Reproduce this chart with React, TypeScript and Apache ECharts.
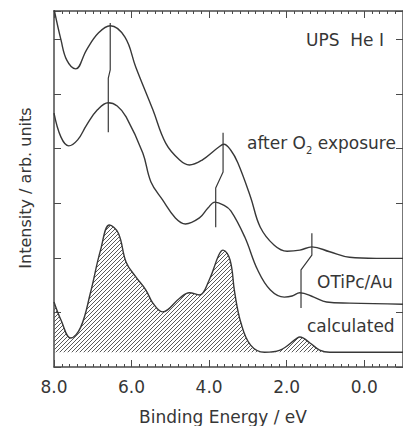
import React, { useEffect, useRef } from "react";
import * as echarts from "echarts";

// Binding energy (eV) / intensity (arb. units)
const o2Energy = [8.0, 7.82, 7.67, 7.44, 7.16, 6.85, 6.55, 6.17, 5.89, 5.45, 5.12, 4.76, 4.51, 4.18, 3.75, 3.62, 3.44, 3.26, 2.93, 2.68, 2.32, 1.99, 1.66, 1.35, 0.89, 0.38, -0.31, -1.0];
const o2Intensity = [6.56, 5.99, 5.62, 5.46, 5.81, 6.12, 6.25, 6.04, 5.49, 4.71, 4.1, 3.79, 3.7, 3.79, 4.03, 4.08, 3.97, 3.74, 3.11, 2.56, 2.23, 2.12, 2.14, 2.2, 2.11, 2.01, 1.99, 1.99];

const auEnergy = [8.0, 7.82, 7.62, 7.39, 7.16, 6.88, 6.6, 6.37, 6.14, 5.71, 5.5, 5.2, 4.87, 4.61, 4.25, 4.03, 3.85, 3.64, 3.44, 3.08, 2.75, 2.42, 2.06, 1.86, 1.66, 1.3, 0.97, 0.38, -1.0];
const auIntensity = [4.65, 4.21, 4.05, 4.16, 4.43, 4.71, 4.84, 4.78, 4.58, 3.92, 3.39, 3.06, 2.73, 2.62, 2.73, 2.91, 3.02, 2.97, 2.86, 2.38, 1.78, 1.41, 1.28, 1.3, 1.36, 1.28, 1.19, 1.17, 1.15];

const calcEnergy = [8.0, 7.82, 7.57, 7.31, 7.06, 6.8, 6.57, 6.34, 6.14, 5.89, 5.63, 5.45, 5.2, 4.76, 4.51, 4.25, 4.0, 3.75, 3.64, 3.46, 3.34, 3.18, 2.93, 2.57, 2.17, 1.73, 1.66, 1.4, 1.15, 0.89, -1.0];
const calcIntensity = [1.19, 0.86, 0.53, 0.73, 1.36, 2.14, 2.6, 2.45, 1.92, 1.65, 1.41, 1.17, 1.01, 1.26, 1.36, 1.32, 1.59, 2.05, 2.14, 1.96, 1.36, 0.81, 0.4, 0.27, 0.31, 0.53, 0.55, 0.44, 0.31, 0.27, 0.27];
const calcBaseline = 0.27;

// peak markers linking the two measured spectra
const markerAEnergy = [6.55, 6.55, 6.6, 6.6];
const markerAIntensity = [6.3, 5.44, 5.29, 4.3];
const markerBEnergy = [3.64, 3.64, 3.83, 3.83];
const markerBIntensity = [4.29, 3.57, 3.28, 2.56];
const markerCEnergy = [1.35, 1.35, 1.63, 1.63];
const markerCIntensity = [2.45, 2.05, 1.78, 1.08];

const xLabelValues = [8, 6, 4, 2, 0];

const zip = (a: number[], b: number[]) => a.map((v, i) => [v, b[i]]);

const FONT = '"DejaVu Sans", "Liberation Sans", sans-serif';
const TEXT = "#363636";
const LINE = "#383838";
const AXIS = "#4a4a4a";

function makeHatch() {
  const c = document.createElement("canvas");
  c.width = 8;
  c.height = 8;
  const ctx = c.getContext("2d")!;
  ctx.strokeStyle = "#5a5a5a";
  ctx.lineWidth = 1;
  for (let k = -8; k <= 16; k += 4) {
    ctx.beginPath();
    ctx.moveTo(k, 8);
    ctx.lineTo(k + 8, 0);
    ctx.stroke();
  }
  return c;
}

export default function App() {
  const ref = useRef<HTMLDivElement>(null);
  useEffect(() => {
    if (!ref.current) return;
    const chart = echarts.init(ref.current, undefined, { renderer: "svg" });
    const hatch = makeHatch();
    const xBase: any = { type: "value", min: -1, max: 8, inverse: true, splitLine: { show: false } };
    const minorAxis = (pos: string, labels: boolean) => ({
      ...xBase,
      position: pos,
      interval: 1,
      axisLine: { show: true, onZero: false, lineStyle: { color: AXIS, width: 1.5 } },
      axisTick: { show: true, inside: true, length: 3, lineStyle: { color: AXIS } },
      minorTick: { show: true, splitNumber: 5, length: 3, lineStyle: { color: AXIS } },
      minorSplitLine: { show: false },
      axisLabel: labels
        ? { show: true, customValues: xLabelValues, formatter: (v: number) => v.toFixed(1), fontSize: 17, fontFamily: FONT, color: TEXT, margin: 11 }
        : { show: false },
    });
    const majorAxis = (pos: string) => ({
      ...xBase,
      position: pos,
      interval: 1,
      axisLine: { show: false, onZero: false },
      axisTick: { show: true, inside: true, length: 7, customValues: xLabelValues, lineStyle: { color: AXIS } },
      axisLabel: { show: false },
    });
    const yAxis = (pos: string) => ({
      type: "value",
      min: 0,
      max: 6.52,
      interval: 1,
      position: pos,
      axisLine: { show: true, onZero: false, lineStyle: { color: AXIS, width: 1.5 } },
      axisTick: { show: true, inside: true, length: 7, lineStyle: { color: AXIS } },
      axisLabel: { show: false },
      splitLine: { show: false },
    });
    const curve = (data: number[][], extra: any = {}) => ({
      type: "line",
      data,
      smooth: 0.4,
      symbol: "none",
      xAxisIndex: 0,
      yAxisIndex: 0,
      lineStyle: { color: LINE, width: 1.4 },
      ...extra,
    });
    const marker = (data: number[][]) => ({
      type: "line",
      data,
      smooth: false,
      symbol: "none",
      xAxisIndex: 0,
      yAxisIndex: 0,
      lineStyle: { color: LINE, width: 1.2 },
    });
    const textEl = (text: string, x: number, y: number, align: string, size: number, extra: any = {}) => ({
      type: "text",
      x,
      y,
      ...extra,
      style: {
        text,
        fill: TEXT,
        fontSize: size,
        fontFamily: FONT,
        align,
        textAlign: align,
        verticalAlign: "middle",
        textVerticalAlign: "middle",
        ...(extra.style || {}),
      },
    });
    chart.setOption({
      animation: false,
      backgroundColor: "#fff",
      grid: { left: 54, top: 11, width: 353, height: 356, containLabel: false },
      xAxis: [minorAxis("bottom", true), majorAxis("bottom"), minorAxis("top", false), majorAxis("top")],
      yAxis: [yAxis("left"), yAxis("right")],
      series: [
        curve(zip(calcEnergy, calcIntensity), {
          areaStyle: { color: { image: hatch, repeat: "repeat", imageWidth: 8, imageHeight: 8 }, origin: calcBaseline, opacity: 1 },
        }),
        curve(zip(auEnergy, auIntensity)),
        curve(zip(o2Energy, o2Intensity)),
        marker(zip(markerAEnergy, markerAIntensity)),
        marker(zip(markerBEnergy, markerBIntensity)),
        marker(zip(markerCEnergy, markerCIntensity)),
      ],
      graphic: [
        textEl("UPS  He I", 384, 40, "right", 17),
        textEl("after O{s|2} exposure", 247, 143, "left", 17, {
          style: { rich: { s: { fontSize: 10, fontFamily: FONT, fill: TEXT, lineHeight: 25, verticalAlign: "bottom" } } },
        }),
        textEl("OTiPc/Au", 317, 282, "left", 17),
        textEl("calculated", 307, 326, "left", 17),
        textEl("Binding Energy / eV", 223, 417, "center", 17),
        textEl("Intensity / arb. units", 25, 188, "center", 16, { rotation: Math.PI / 2 }),
      ],
    });
    return () => chart.dispose();
  }, []);
  return <div ref={ref} style={{ position: "fixed", left: 0, top: 0, width: 403, height: 426 }} />;
}
